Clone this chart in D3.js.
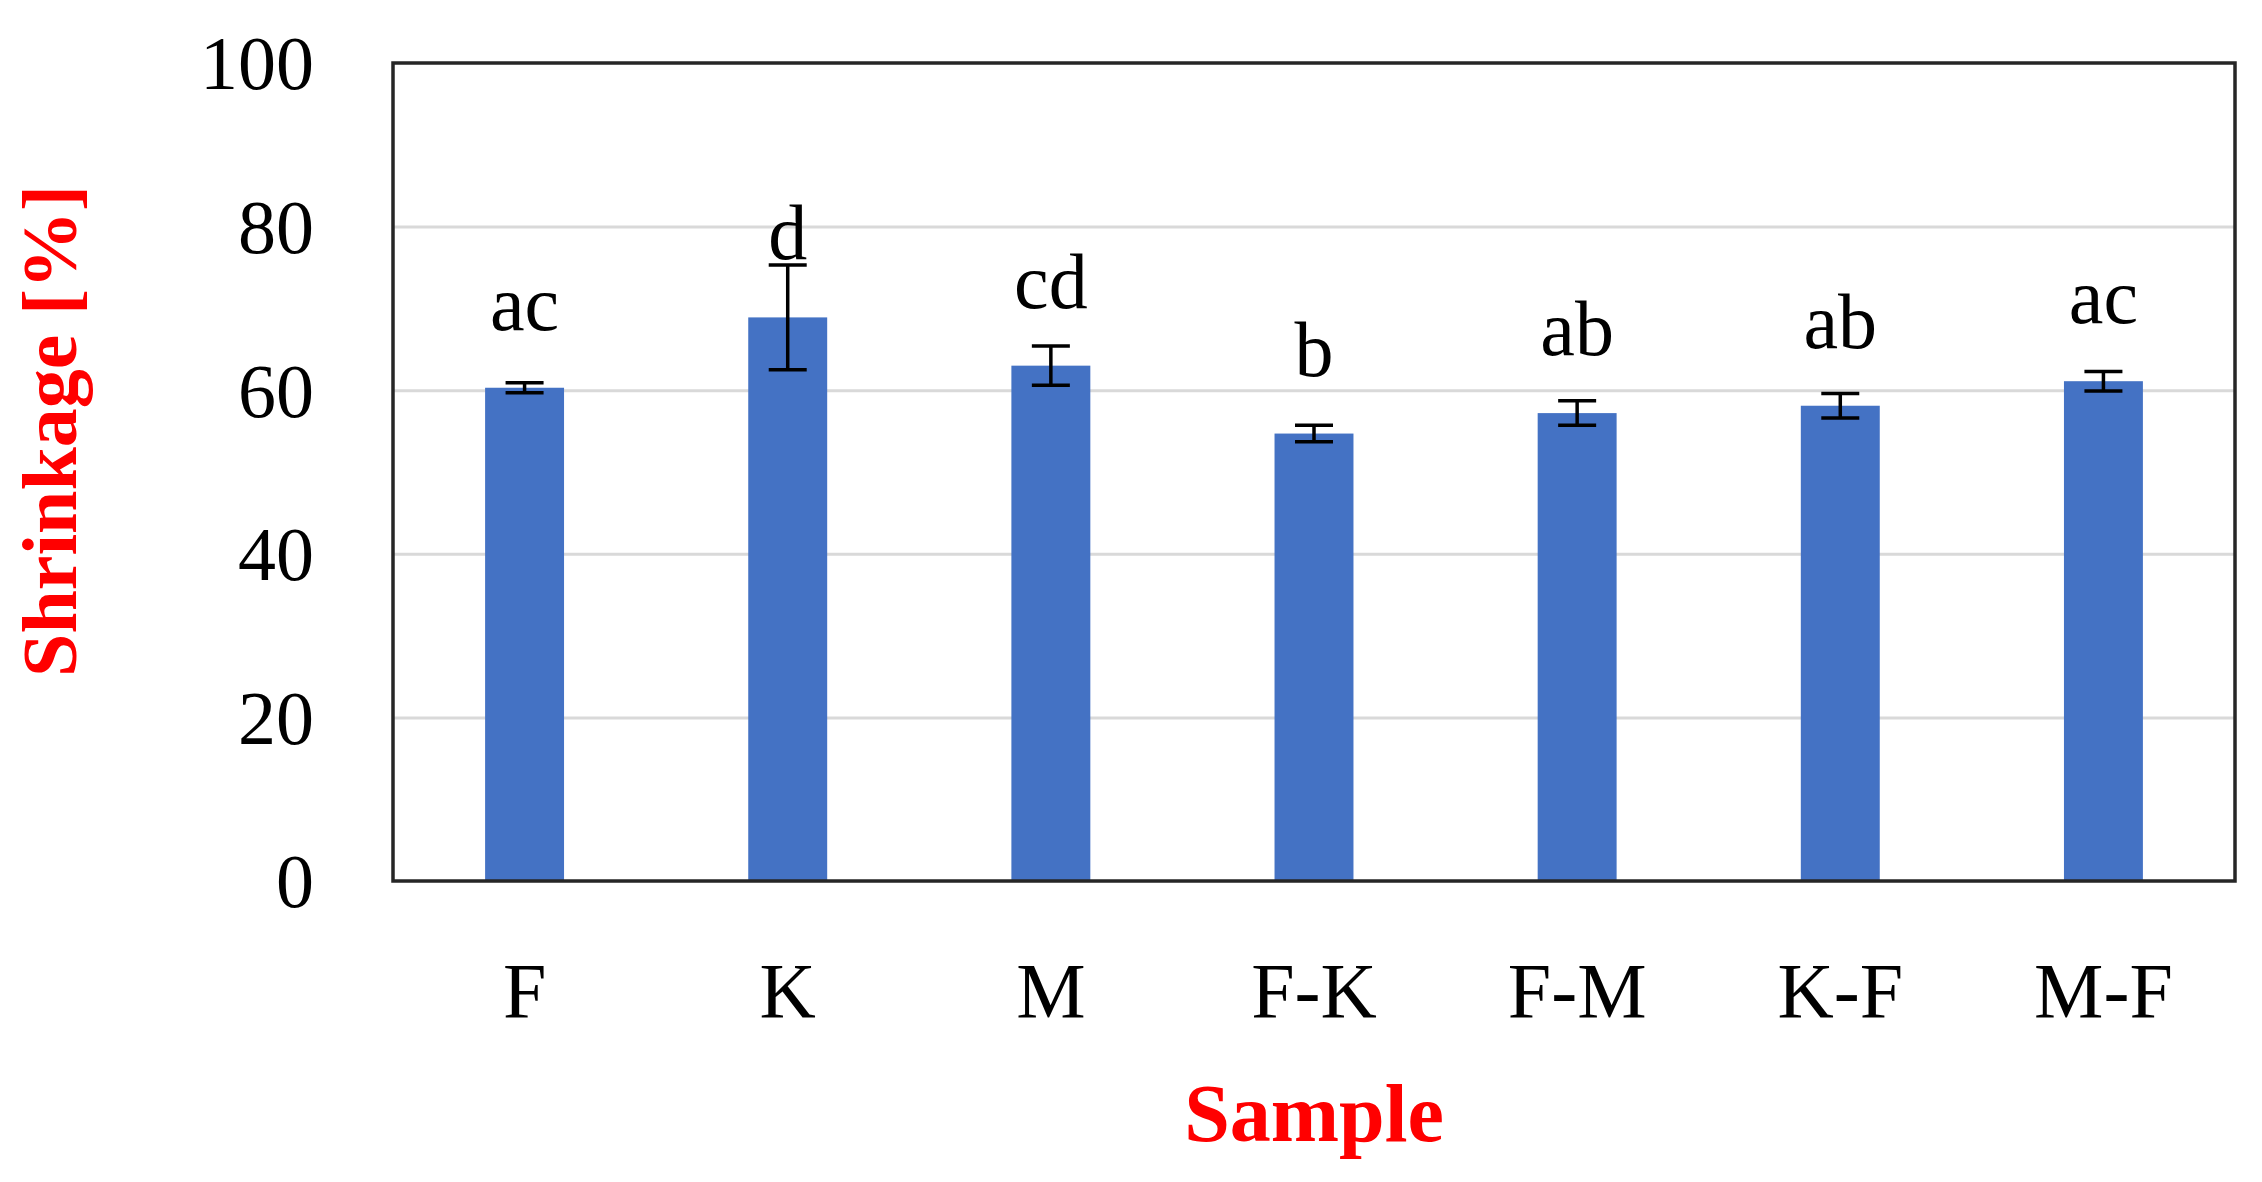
<!DOCTYPE html>
<html>
<head>
<meta charset="utf-8">
<script src="https://cdn.jsdelivr.net/npm/d3@7"></script>
<style>
  html, body { margin: 0; padding: 0; background: #ffffff; }
  svg { display: block; }
  text { font-family: "Liberation Serif", "DejaVu Serif", serif; }
</style>
</head>
<body>
<svg id="chart" width="2262" height="1182"></svg>
<script>
// ---- data ----
const categories = ["F", "K", "M", "F-K", "F-M", "K-F", "M-F"];
const values = [60.3, 68.9, 63.0, 54.7, 57.2, 58.1, 61.1];
const errors = [0.6, 6.4, 2.4, 1.0, 1.5, 1.5, 1.2];
const letters = ["ac", "d", "cd", "b", "ab", "ab", "ac"];
const yTicks = [0, 20, 40, 60, 80, 100];
const yTitle = "Shrinkage [%]";
const xTitle = "Sample";

// ---- layout ----
const W = 2262, H = 1182;
const plot = { left: 393, right: 2235, top: 63, bottom: 881 };

const svg = d3.select("#chart");

const x = d3.scaleBand()
  .domain(categories)
  .range([plot.left, plot.right])
  .paddingInner(0.7)
  .paddingOuter(0.35);

const y = d3.scaleLinear()
  .domain([0, 100])
  .range([plot.bottom, plot.top]);

// gridlines
svg.append("g")
  .attr("transform", `translate(${plot.left},0)`)
  .call(d3.axisLeft(y).tickValues(yTicks.filter(t => t > 0 && t < 100))
    .tickSize(-(plot.right - plot.left)).tickFormat(""))
  .call(g => g.select(".domain").remove())
  .call(g => g.selectAll("line").attr("stroke", "#d9d9d9").attr("stroke-width", 3));

// bars
const data = categories.map((c, i) => ({ c, v: values[i], e: errors[i], l: letters[i] }));

svg.append("g").selectAll("rect")
  .data(data).join("rect")
  .attr("x", d => x(d.c))
  .attr("width", x.bandwidth())
  .attr("y", d => y(d.v))
  .attr("height", d => y(0) - y(d.v))
  .attr("fill", "#4472c4");

// error bars
const capW = 38;
const eb = svg.append("g").attr("stroke", "#000").attr("stroke-width", 3.5);
eb.selectAll("line.v").data(data).join("line")
  .attr("class", "v")
  .attr("x1", d => x(d.c) + x.bandwidth() / 2)
  .attr("x2", d => x(d.c) + x.bandwidth() / 2)
  .attr("y1", d => y(d.v - d.e))
  .attr("y2", d => y(d.v + d.e));
eb.selectAll("line.t").data(data).join("line")
  .attr("class", "t")
  .attr("x1", d => x(d.c) + x.bandwidth() / 2 - capW / 2)
  .attr("x2", d => x(d.c) + x.bandwidth() / 2 + capW / 2)
  .attr("y1", d => y(d.v + d.e))
  .attr("y2", d => y(d.v + d.e));
eb.selectAll("line.b").data(data).join("line")
  .attr("class", "b")
  .attr("x1", d => x(d.c) + x.bandwidth() / 2 - capW / 2)
  .attr("x2", d => x(d.c) + x.bandwidth() / 2 + capW / 2)
  .attr("y1", d => y(d.v - d.e))
  .attr("y2", d => y(d.v - d.e));

// significance letters
svg.append("g").selectAll("text")
  .data(data).join("text")
  .attr("x", d => x(d.c) + x.bandwidth() / 2)
  .attr("y", d => y(d.v) - 58)
  .attr("text-anchor", "middle")
  .attr("font-size", 78)
  .attr("fill", "#000")
  .text(d => d.l);

// plot border
svg.append("rect")
  .attr("x", plot.left).attr("y", plot.top)
  .attr("width", plot.right - plot.left)
  .attr("height", plot.bottom - plot.top)
  .attr("fill", "none")
  .attr("stroke", "#262626")
  .attr("stroke-width", 3.5);

// y axis labels
svg.append("g")
  .attr("transform", `translate(${plot.left},0)`)
  .call(d3.axisLeft(y).tickValues(yTicks).tickSize(0).tickPadding(79))
  .call(g => g.select(".domain").remove())
  .call(g => g.selectAll("text")
    .attr("font-family", "Liberation Serif, serif")
    .attr("font-size", 76)
    .attr("fill", "#000")
    .attr("dy", "0.34em"));

// x axis labels
svg.append("g")
  .attr("transform", `translate(0,${plot.bottom})`)
  .call(d3.axisBottom(x).tickSize(0).tickPadding(0))
  .call(g => g.select(".domain").remove())
  .call(g => g.selectAll("text")
    .attr("font-family", "Liberation Serif, serif")
    .attr("font-size", 78)
    .attr("fill", "#000")
    .attr("y", 136)
    .attr("dy", 0));

// axis titles
svg.append("text")
  .attr("x", (plot.left + plot.right) / 2)
  .attr("y", 1141)
  .attr("text-anchor", "middle")
  .attr("font-size", 82)
  .attr("font-weight", "bold")
  .attr("fill", "#ff0000")
  .text(xTitle);

svg.append("text")
  .attr("transform", "translate(76,431) rotate(-90)")
  .attr("text-anchor", "middle")
  .attr("font-size", 78)
  .attr("font-weight", "bold")
  .attr("fill", "#ff0000")
  .text(yTitle);
</script>
</body>
</html>
